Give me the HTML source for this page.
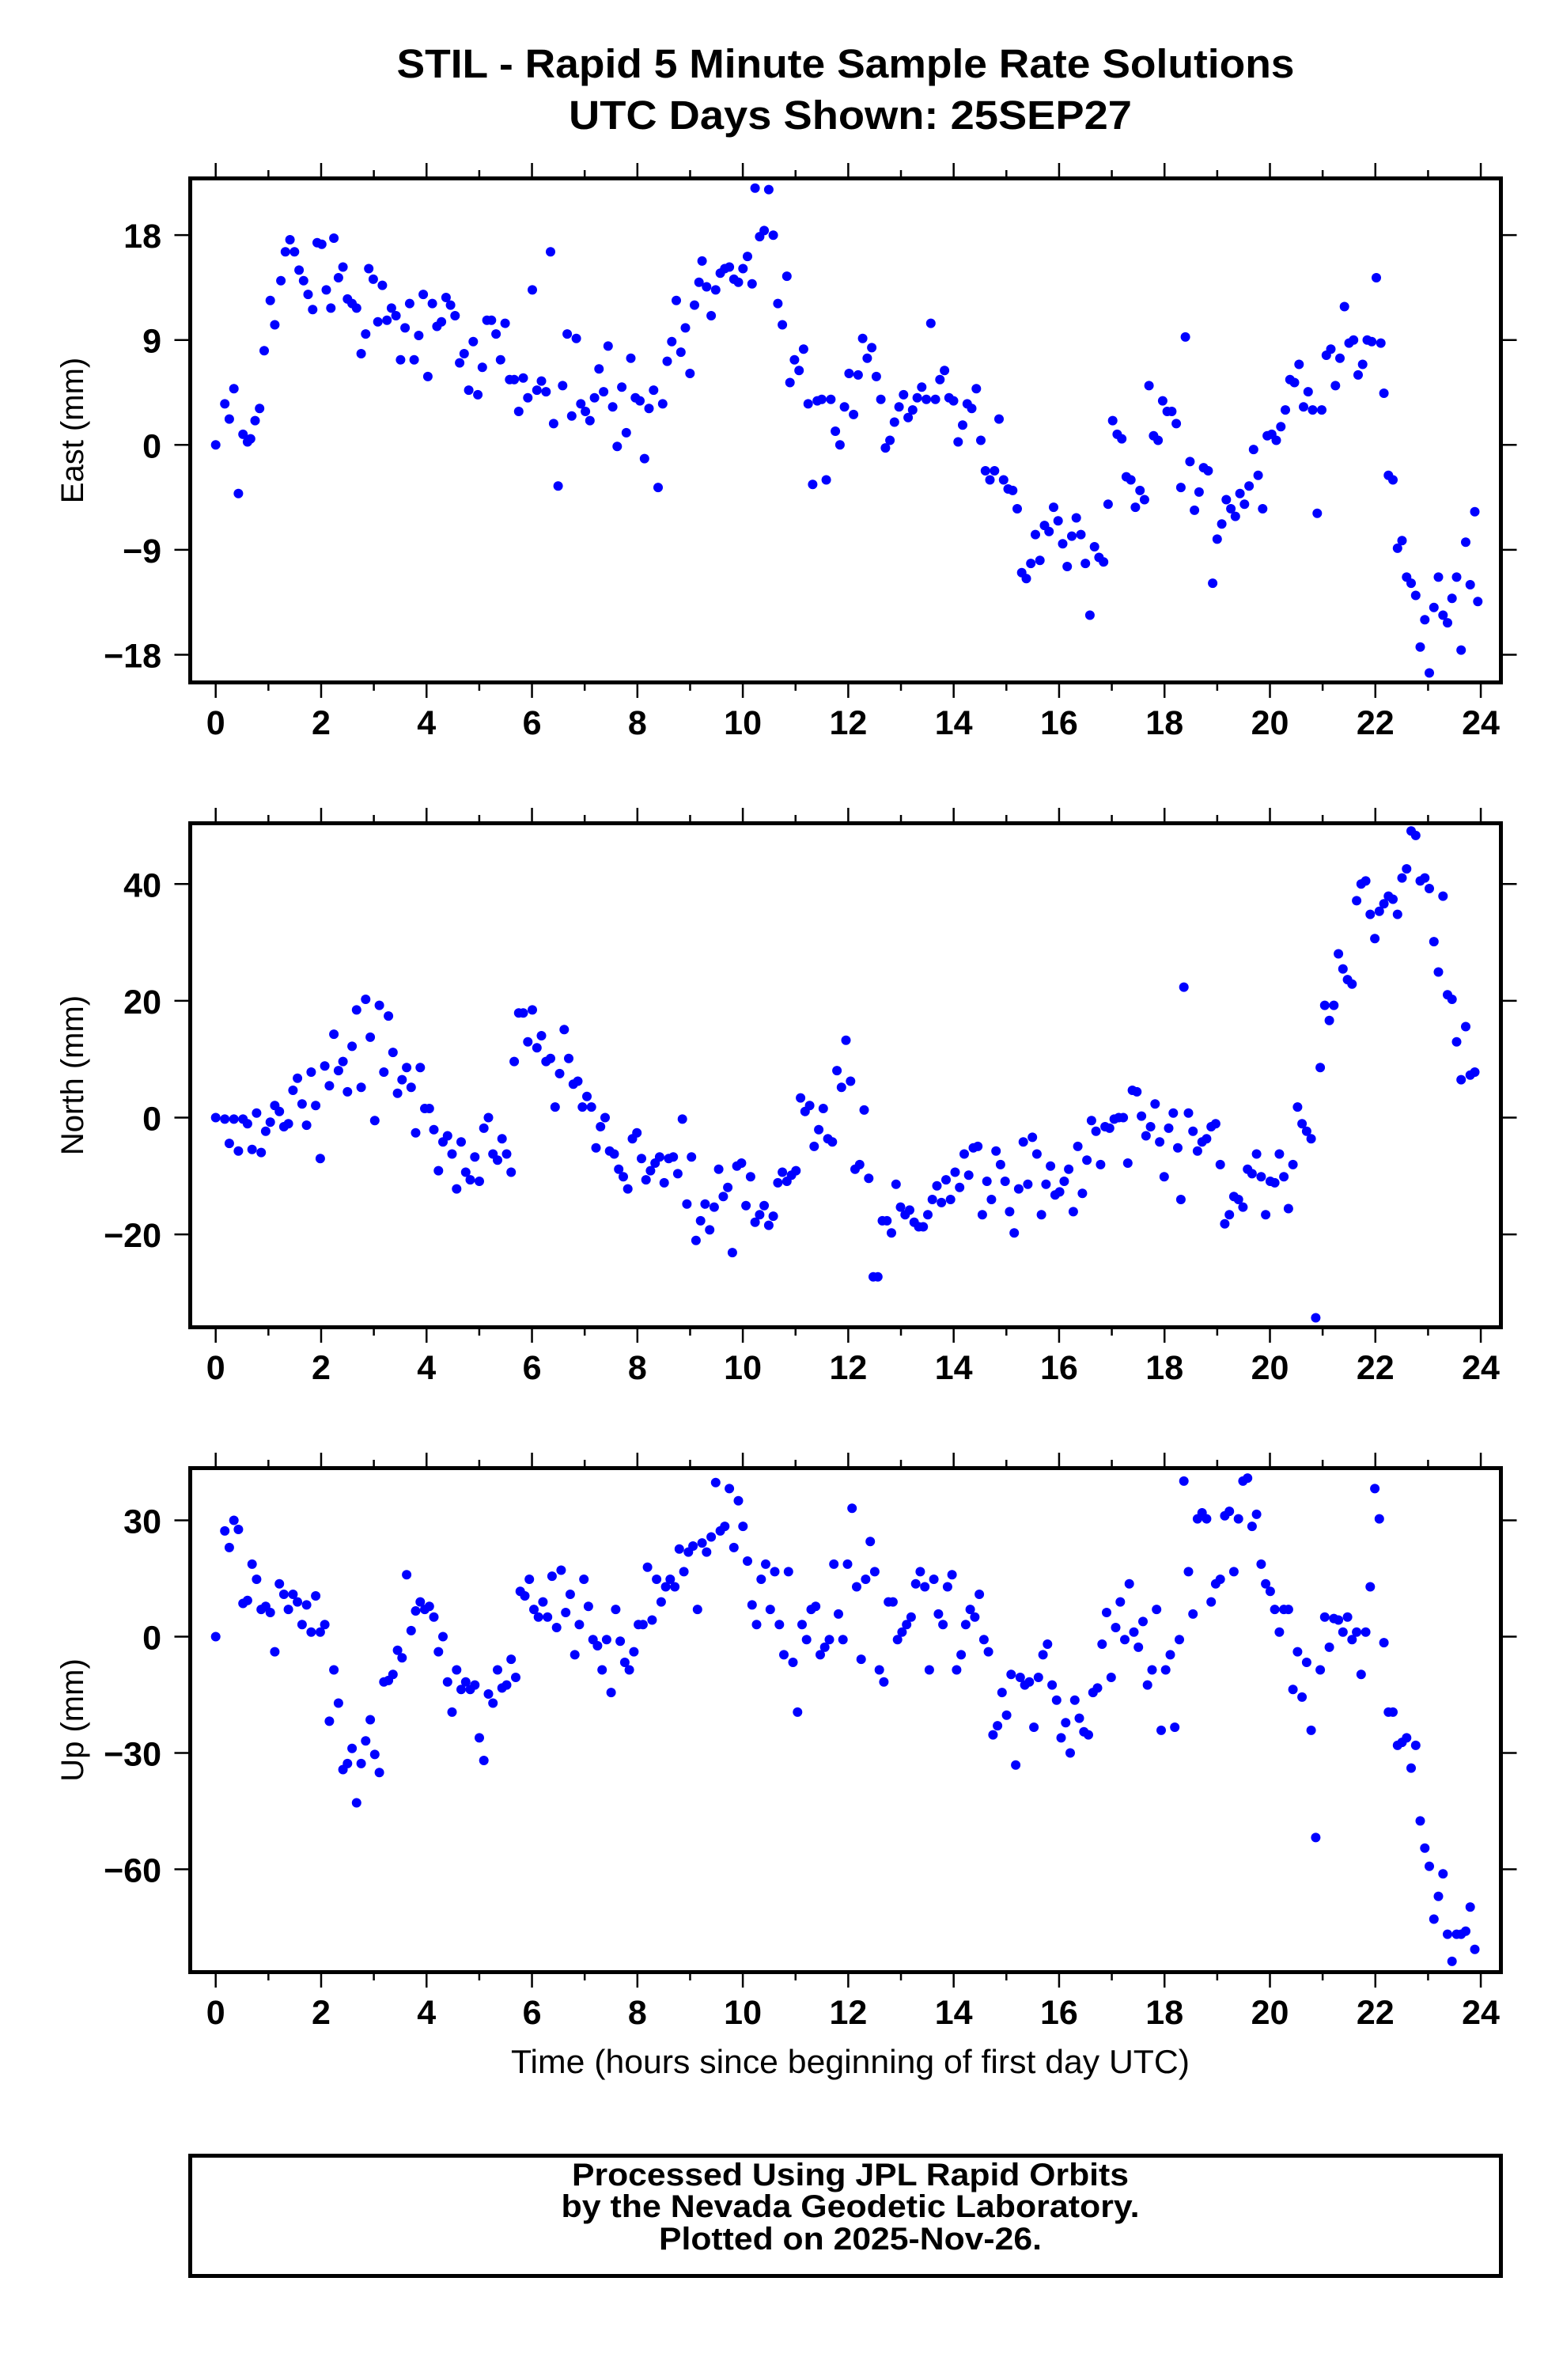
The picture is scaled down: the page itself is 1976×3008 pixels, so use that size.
<!DOCTYPE html>
<html><head><meta charset="utf-8">
<style>
html,body{margin:0;padding:0;background:#fff;}
svg{display:block;}
text{font-family:"Liberation Sans",Arial,sans-serif;}
</style></head>
<body>
<svg id="s" width="1976" height="3008" viewBox="0 0 1976 3008" xmlns="http://www.w3.org/2000/svg">
<rect width="1976" height="3008" fill="#fff"/>
<text x="1069" y="98" font-size="51" font-weight="bold" text-anchor="middle" textLength="1135" lengthAdjust="spacingAndGlyphs">STIL - Rapid 5 Minute Sample Rate Solutions</text>
<text x="1075" y="163" font-size="51" font-weight="bold" text-anchor="middle" textLength="712" lengthAdjust="spacingAndGlyphs">UTC Days Shown:  25SEP27</text>
<g id="g"></g>
<text x="1075" y="2620" font-size="42" text-anchor="middle" textLength="858" lengthAdjust="spacingAndGlyphs">Time (hours since beginning of first day UTC)</text>
<rect x="240.5" y="2724.5" width="1657" height="152" fill="none" stroke="#000" stroke-width="5"/>
<text x="1075" y="2762" font-size="40" font-weight="bold" text-anchor="middle" textLength="704" lengthAdjust="spacingAndGlyphs">Processed Using JPL Rapid Orbits</text>
<text x="1075" y="2802" font-size="40" font-weight="bold" text-anchor="middle" textLength="731" lengthAdjust="spacingAndGlyphs">by the Nevada Geodetic Laboratory.</text>
<text x="1075" y="2843" font-size="40" font-weight="bold" text-anchor="middle" textLength="484" lengthAdjust="spacingAndGlyphs">Plotted on 2025-Nov-26.</text>
</svg>
<script>
var NS="http://www.w3.org/2000/svg",g=document.getElementById('g');
function el(t,a,txt){var e=document.createElementNS(NS,t);for(var k in a)e.setAttribute(k,a[k]);if(txt!=null)e.textContent=txt;g.appendChild(e);return e;}
var L=240.5,R=1897.5;
function X(h){return 272.7+66.64*h;}
var panels=[
 {top:225.5,bot:862.5,y0:562.3,k:14.73,ticks:[-18,-9,0,9,18],lab:"East (mm)",d0:293,f:1.921,
  d:"141,293,147,266,150,276,153,256,156,325,159,286,162,291,164,289,167,277,170,269,173,231,177,198,180,214,184,185,187,166,190,158,193,166,196,178,199,185,202,194,205,204,208,160,211,161,214,191,217,203,219,157,222,183,225,176,228,197,231,200,234,203,237,233,240,220,242,177,245,184,248,212,251,188,254,211,257,203,260,208,263,237,266,216,269,200,272,237,275,221,278,194,281,248,284,200,287,215,290,212,293,196,296,201,299,208,302,239,305,233,308,257,311,225,314,260,317,242,320,211,323,211,326,220,329,237,332,213,335,250,338,250,341,271,344,249,347,262,350,191,353,257,356,251,359,258,362,166,364,279,367,320,370,254,373,220,376,274,379,223,382,266,385,271,388,277,391,262,394,243,397,258,400,228,403,268,406,294,409,255,412,285,415,236,418,262,421,264,424,302,427,269,430,257,433,321,436,266,439,238,442,225,445,198,448,232,451,216,454,246,457,201,460,186,462,172,465,189,468,208,471,191,474,180,477,177,480,176,483,184,486,186,489,177,492,169,495,187,497,124,500,156,503,152,506,125,509,155,512,200,515,214,518,182,520,252,523,237,526,244,529,230,532,266,535,319,538,264,541,263,544,316,547,263,550,284,553,293,556,268,559,246,562,273,565,247,568,223,571,236,574,229,577,248,580,263,583,295,586,290,589,278,592,268,595,260,598,275,601,270,604,262,607,255,610,263,613,213,616,263,619,250,622,244,625,262,628,264,631,291,634,280,637,266,640,269,643,256,646,290,649,310,652,316,655,310,658,276,661,316,664,322,667,323,670,335,673,377,676,381,679,371,682,352,685,369,688,346,691,350,694,334,697,343,700,358,703,373,706,353,709,341,712,352,715,371,718,405,721,360,724,367,727,370,730,332,733,277,736,286,739,289,742,314,745,316,748,334,751,323,754,329,757,254,760,287,763,290,766,264,769,271,772,271,775,279,778,321,781,222,784,304,787,336,790,324,793,308,796,310,799,384,802,355,805,345,808,329,811,335,814,340,817,325,820,332,823,320,826,296,829,313,832,335,835,287,838,286,841,290,844,281,847,270,850,250,853,252,856,240,859,268,862,258,865,270,868,338,871,270,874,234,877,230,880,254,883,236,886,202,889,226,892,224,895,247,898,240,901,224,904,225,907,183,910,226,912,259,915,313,918,316,921,361,924,356,927,380,930,384,933,392,936,426,939,408,942,443,945,400,948,380,951,405,954,410,957,394,960,380,963,428,966,357,969,385,972,337,974,396"},
 {top:1040.5,bot:1677.5,y0:1412.5,k:7.38,ticks:[-20,0,20,40],lab:"North (mm)",d0:736,f:1.917,
  d:"141,736,147,737,150,753,153,737,156,758,159,737,162,740,165,757,168,733,171,759,174,745,177,739,180,728,183,732,186,742,189,740,192,718,195,710,198,727,201,741,204,706,207,728,210,763,213,702,216,715,219,681,222,705,225,699,228,719,231,689,234,665,237,716,240,658,243,683,246,738,249,662,252,706,255,669,258,693,261,720,264,711,267,703,270,716,273,746,276,703,279,730,282,730,285,744,288,771,291,752,294,748,297,760,300,783,303,752,306,772,309,777,312,762,315,778,318,743,321,736,324,760,327,764,330,750,333,760,336,772,338,699,341,667,344,667,347,686,350,665,353,690,356,682,359,699,362,697,365,729,368,707,371,678,374,697,377,714,380,712,383,729,386,722,389,729,392,756,395,742,398,736,401,758,404,760,407,770,410,775,413,783,416,750,419,746,422,763,425,777,428,771,431,766,434,762,437,779,440,763,443,762,446,773,449,737,452,793,455,762,458,817,461,804,464,793,467,810,470,795,473,770,476,788,479,782,482,825,485,768,488,766,491,794,494,775,497,805,500,800,503,794,506,807,509,801,512,779,515,772,518,778,521,774,524,771,527,723,530,732,533,728,536,755,539,744,542,730,545,750,548,752,551,705,554,716,557,685,560,712,563,770,566,767,569,731,572,776,575,841,578,841,581,804,584,804,587,812,590,780,593,795,596,800,599,797,602,805,605,808,608,808,611,800,614,790,617,781,620,792,623,777,626,790,629,772,632,782,635,760,638,774,641,756,644,755,647,800,650,778,653,790,656,758,659,767,662,778,665,798,668,812,671,783,674,752,677,780,680,749,683,760,686,800,689,780,692,768,695,787,698,785,701,778,704,770,707,798,710,755,713,786,716,764,719,738,722,745,725,767,728,742,731,743,734,737,737,736,740,736,743,766,746,718,749,719,752,735,755,748,758,742,761,727,764,752,767,775,770,743,773,733,776,756,778,790,780,650,783,733,786,745,789,758,792,752,795,750,798,742,801,740,804,767,807,806,810,800,813,788,816,790,819,795,822,770,825,773,828,760,831,775,834,800,837,778,840,779,843,760,846,775,849,796,852,767,855,729,858,740,861,745,864,750,867,868,870,703,873,662,876,672,879,662,882,628,885,638,888,645,891,648,894,593,897,582,900,580,903,602,906,618,909,600,912,595,915,590,918,592,921,602,924,578,927,572,930,547,933,550,936,580,939,578,942,585,945,620,948,640,951,590,954,655,957,658,960,686,963,711,966,676,969,708,972,706"},
 {top:1855.5,bot:2492.5,y0:2068.5,k:4.9,ticks:[-60,-30,0,30],lab:"Up (mm)",d0:1078,f:1.909,
  d:"141,1078,147,1008,150,1019,153,1001,156,1007,159,1056,162,1054,165,1030,168,1040,171,1060,174,1058,177,1062,180,1088,183,1043,186,1050,189,1060,192,1050,195,1055,198,1070,201,1057,204,1075,207,1051,210,1075,213,1070,216,1134,219,1100,222,1122,225,1166,228,1162,231,1152,234,1188,237,1162,240,1147,243,1133,246,1156,249,1168,252,1108,255,1107,258,1103,261,1087,264,1092,267,1037,270,1074,273,1061,276,1055,279,1060,282,1058,285,1065,288,1088,291,1078,294,1108,297,1128,300,1100,303,1113,306,1108,309,1113,312,1110,315,1145,318,1160,321,1116,324,1122,327,1100,330,1112,333,1110,336,1093,339,1105,342,1048,345,1051,348,1040,351,1060,354,1065,357,1055,360,1065,363,1038,366,1072,369,1034,372,1062,375,1050,378,1090,381,1070,384,1040,387,1058,390,1080,393,1084,396,1100,399,1080,402,1115,405,1060,408,1081,411,1095,414,1100,417,1088,420,1070,423,1070,426,1032,429,1067,432,1040,435,1055,438,1045,441,1040,444,1045,447,1020,450,1035,453,1022,456,1018,459,1060,462,1016,465,1022,468,1012,471,976,474,1008,477,1005,480,980,483,1019,486,988,489,1005,492,1028,495,1057,498,1070,501,1040,504,1030,507,1060,510,1035,513,1070,516,1090,519,1035,522,1095,525,1128,528,1070,531,1080,534,1060,537,1058,540,1090,543,1085,546,1080,549,1030,552,1063,555,1080,558,1030,561,993,564,1045,567,1093,570,1040,573,1015,576,1035,579,1100,582,1108,585,1055,588,1055,591,1080,594,1075,597,1070,600,1065,603,1043,606,1035,609,1045,612,1100,615,1040,618,1063,621,1070,624,1045,627,1037,630,1100,633,1090,636,1070,639,1060,642,1065,645,1050,648,1080,651,1088,654,1143,657,1137,660,1115,663,1130,666,1103,669,1163,672,1105,675,1110,678,1108,681,1138,684,1105,687,1090,690,1083,693,1110,696,1120,699,1145,702,1135,705,1155,708,1120,711,1132,714,1141,717,1143,720,1115,723,1112,726,1083,729,1062,732,1105,735,1072,738,1055,741,1080,744,1043,747,1075,750,1085,753,1068,756,1110,759,1100,762,1060,765,1140,768,1100,771,1090,774,1138,777,1080,780,975,783,1035,786,1063,789,1000,792,996,795,1000,798,1055,801,1043,804,1040,807,998,810,995,813,1035,816,1000,819,975,822,973,825,1005,828,997,831,1030,834,1043,837,1048,840,1060,843,1075,846,1060,849,1060,852,1113,855,1088,858,1118,861,1095,864,1140,867,1211,870,1100,873,1065,876,1085,879,1066,882,1067,885,1075,888,1065,891,1080,894,1075,897,1103,900,1075,903,1045,906,980,909,1000,912,1082,915,1128,918,1128,921,1150,924,1148,927,1145,930,1165,933,1150,936,1200,939,1218,942,1230,945,1265,948,1250,951,1235,954,1275,957,1293,960,1275,963,1275,966,1273,969,1257,972,1285"}
];
panels.forEach(function(p){
  var a=p.d.split(',').map(Number);
  for(var i=0;i<a.length;i+=2){
    var x=272.7+1.9155*(a[i]-141), y=p.y0-p.f*(p.d0-a[i+1]);
    if(y<p.top+3)y=p.top+3; if(y>p.bot-3)y=p.bot-3;
    el('circle',{cx:x.toFixed(1),cy:y.toFixed(1),r:6,fill:'#0000ff'});
  }
  for(var h=0;h<=24;h++){
    var x=X(h),len=(h%2==0)?17:8;
    el('line',{x1:x,y1:p.top-2.5,x2:x,y2:p.top-2.5-len,stroke:'#000','stroke-width':2.5});
    el('line',{x1:x,y1:p.bot+2.5,x2:x,y2:p.bot+2.5+len,stroke:'#000','stroke-width':2.5});
    if(h%2==0) el('text',{x:x,y:p.bot+65.5,'font-size':43,'font-weight':'bold','text-anchor':'middle'},String(h));
  }
  p.ticks.forEach(function(v){
    var y=p.y0-p.k*v;
    el('line',{x1:L-2.5,y1:y,x2:L-20,y2:y,stroke:'#000','stroke-width':2.5});
    el('line',{x1:R+2.5,y1:y,x2:R+20,y2:y,stroke:'#000','stroke-width':2.5});
    el('text',{x:204,y:y+16,'font-size':43,'font-weight':'bold','text-anchor':'end'},(v<0?'\u2212'+(-v):String(v)));
  });
  el('rect',{x:L,y:p.top,width:R-L,height:p.bot-p.top,fill:'none',stroke:'#000','stroke-width':5});
  var cy=(p.top+p.bot)/2;
  el('text',{x:105,y:cy,'font-size':40,'text-anchor':'middle',transform:'rotate(-90 105 '+cy+')'},p.lab);
});
</script>
</body></html>
